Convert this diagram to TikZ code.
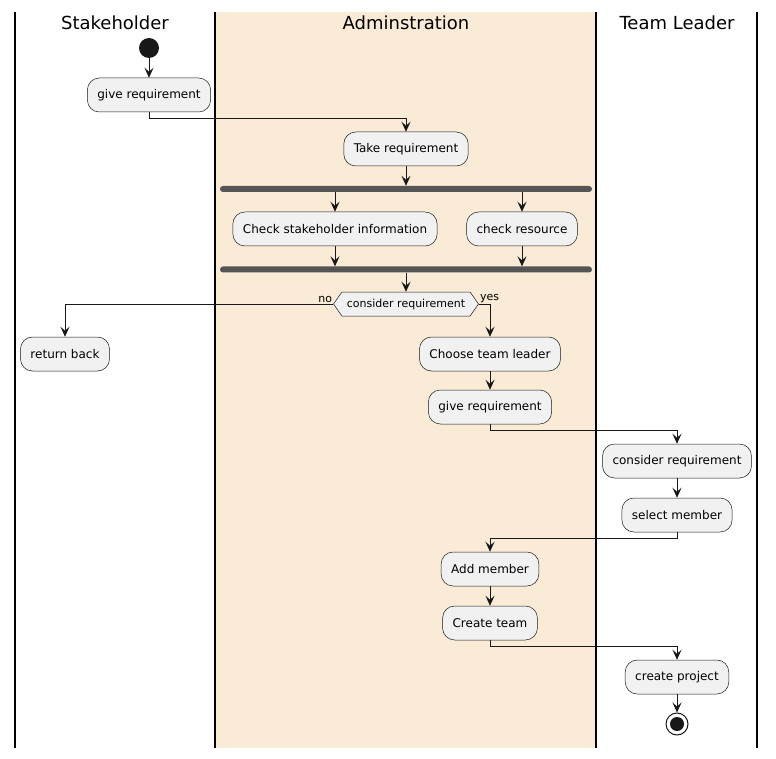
\documentclass[tikz,border=0pt]{standalone}
\usepackage{fontspec}
\setmainfont{DejaVu Sans}
\usetikzlibrary{positioning,arrows.meta,shapes.symbols}

\definecolor{laneback}{HTML}{FAEBD7}
\definecolor{boxfill}{HTML}{F1F1F1}
\definecolor{linecol}{HTML}{181818}
\definecolor{barcol}{HTML}{555555}

\tikzset{
  activity/.style={draw=linecol, line width=0.5pt, fill=boxfill, rounded corners=12pt,
    minimum height=34pt, inner xsep=10pt, font=\fontsize{12}{14}\selectfont},
  decision/.style={signal, signal to=west and east, signal pointer angle=110, draw=linecol,
    line width=0.5pt, fill=boxfill, minimum height=24pt, inner xsep=5pt, inner ysep=0pt,
    font=\fontsize{11}{13}\selectfont},
  branchlbl/.style={inner sep=1pt, font=\fontsize{11}{13}\selectfont},
  flow/.style={-{Stealth[length=10pt,width=9pt,inset=4pt]}, draw=linecol, line width=0.8pt},
  forkbar/.style={fill=barcol, rounded corners=3pt, minimum width=372pt, minimum height=6pt, inner sep=0pt},
  lanetitle/.style={font=\fontsize{18}{20}\selectfont},
  laneline/.style={line width=1.5pt, black}
}

\begin{document}
\begin{tikzpicture}[x=1pt, y=-1pt]
    \useasboundingbox (0,0) rectangle (776,759);

    % Swimlanes
    \fill[laneback] (215,12) rectangle (596,748);
    \foreach \lx in {15,215,596,757} {
        \draw[laneline] (\lx,12) -- (\lx,748);
    }
    \node[lanetitle] (stakeT) at (115,23) {Stakeholder};
    \node[lanetitle] (adminT) at (406,23) {Adminstration};
    \node[lanetitle] (leadT) at (677,23) {Team Leader};

    % Stakeholder
    \node[circle, fill=linecol, minimum size=20pt, inner sep=0pt] (start) at (149,48) {};
    \node[activity] (give1) at (149,95) {give requirement};
    \node[activity] (back) at (65,354) {return back};

    % Adminstration
    \node[activity] (take) at (406,149) {Take requirement};
    \node[forkbar] (fork) at (406,189) {};
    \node[activity] (chkinfo) at (335,229) {Check stakeholder information};
    \node[activity] (chkres) at (522,229) {check resource};
    \node[forkbar] (join) at (406,269.5) {};
    \node[decision] (cons) at (406,304) {consider requirement};
    \node[branchlbl, anchor=south east] (nolbl) at (cons.west) {no};
    \node[branchlbl, anchor=south west] (yeslbl) at (cons.east) {yes};
    \node[activity] (choose) at (490,354) {Choose team leader};
    \node[activity] (give2) at (490,407) {give requirement};
    \node[activity] (addm) at (490,569) {Add member};
    \node[activity] (team) at (490,623) {Create team};

    % Team Leader
    \node[activity] (consider2) at (677,461) {consider requirement};
    \node[activity] (select) at (677,515) {select member};
    \node[activity] (project) at (677,677) {create project};
    \node[circle, draw=linecol, line width=1pt, fill=white, minimum size=22pt, inner sep=0pt] (stop) at (677,724) {};
    \node[circle, fill=linecol, minimum size=14pt, inner sep=0pt] (stopdot) at (stop) {};

    % Flow
    \draw[flow] (start) -- (give1);
    \draw[flow] (give1.south) -- ++(0,6) -| (take.north);
    \draw[flow] (take.south) -- (take.south |- fork.north);
    \draw[flow] (fork.south -| chkinfo) -- (chkinfo.north);
    \draw[flow] (fork.south -| chkres) -- (chkres.north);
    \draw[flow] (chkinfo.south) -- (chkinfo.south |- join.north);
    \draw[flow] (chkres.south) -- (chkres.south |- join.north);
    \draw[flow] (join.south) -- (cons.north);
    \draw[flow] (cons.west) -| (back.north);
    \draw[flow] (cons.east) -| (choose.north);
    \draw[flow] (choose) -- (give2);
    \draw[flow] (give2.south) -- ++(0,6) -| (consider2.north);
    \draw[flow] (consider2) -- (select);
    \draw[flow] (select.south) -- ++(0,6) -| (addm.north);
    \draw[flow] (addm) -- (team);
    \draw[flow] (team.south) -- ++(0,6) -| (project.north);
    \draw[flow] (project) -- (stop);
\end{tikzpicture}
\end{document}
